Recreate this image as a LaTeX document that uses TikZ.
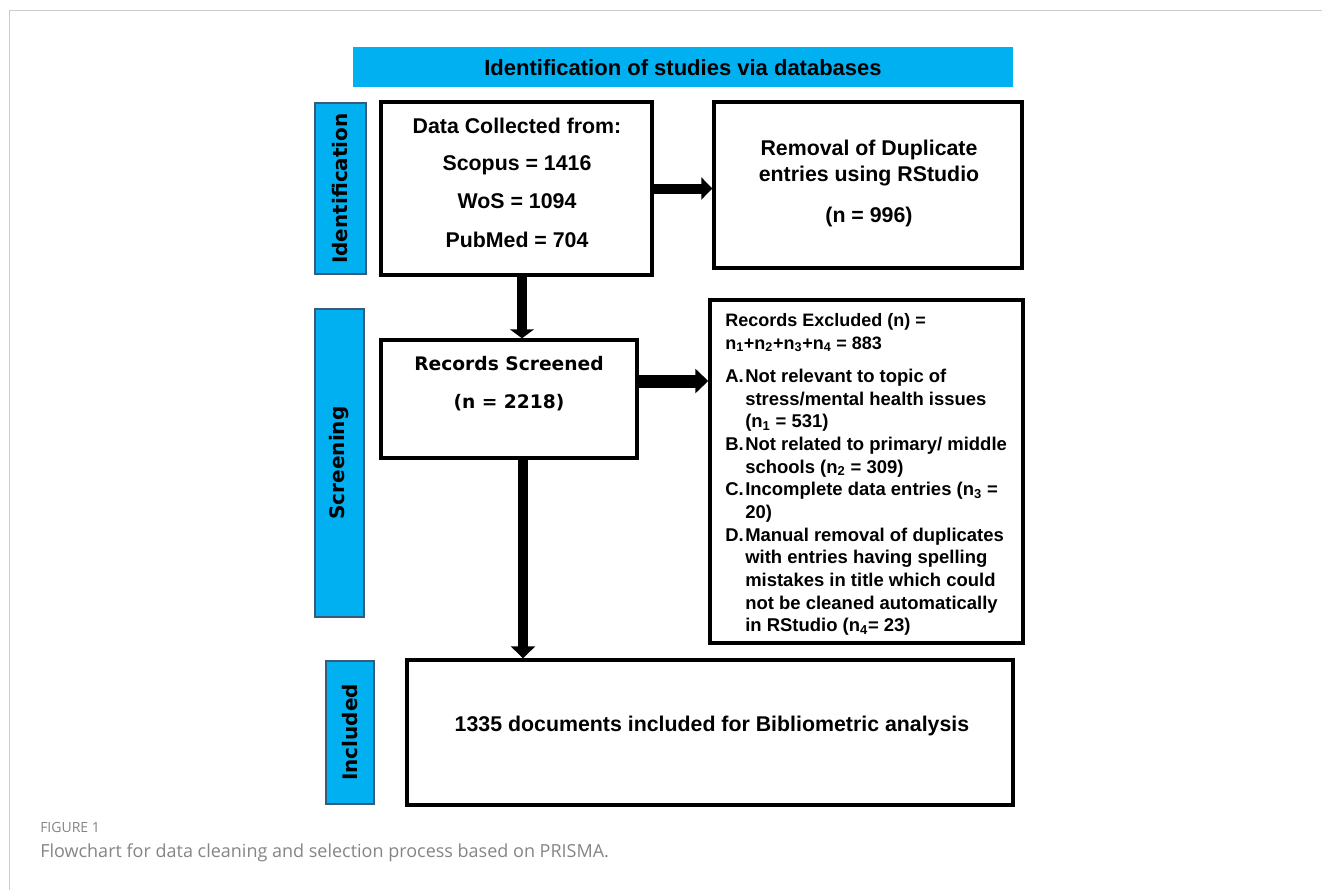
\documentclass[tikz,border=0pt]{standalone}
\usepackage{fontspec}
\setmainfont{Liberation Sans}
\newfontfamily\labfont{DejaVu Sans}
\newfontfamily\capfont{Open Sans}
\usetikzlibrary{arrows.meta}
\definecolor{cyanb}{HTML}{00B0F0}
\definecolor{labborder}{HTML}{3A5A7A}
\definecolor{framegray}{HTML}{CCCCCC}
\definecolor{capgray}{HTML}{858585}
\newcommand\itemfont{\fontsize{13.85pt}{17pt}\selectfont}
\begin{document}
\begin{tikzpicture}[x=0.75pt,y=-0.75pt,
  box/.style={draw=black, line width=2.6pt, fill=white, inner sep=0pt},
  lab/.style={draw=labborder, line width=0.8pt, fill=cyanb, inner sep=0pt, rotate=90,
    font=\labfont\bfseries\fontsize{15pt}{18pt}\selectfont},
  txt/.style={inner sep=0pt, anchor=base, font=\bfseries\fontsize{16pt}{19pt}\selectfont},
  rtxt/.style={inner sep=0pt, anchor=base, font=\labfont\bfseries\fontsize{14pt}{17pt}\selectfont},
  captxt/.style={inner sep=0pt, anchor=base west, text=capgray},
  arr/.style={line width=7.5pt, -{Triangle[width=18pt,length=8pt]}},
]
\useasboundingbox (0,0) rectangle (1322,890);
\fill[white] (0,0) rectangle (1322,890);
\draw[framegray, line width=0.75pt] (1322,10) -- (9,10) -- (9,890);

% banner
\node[fill=cyanb, inner sep=0pt, minimum width=495pt, minimum height=30pt] (banner) at (683,67) {};
\node[txt, font=\bfseries\fontsize{16.5pt}{19pt}\selectfont] (bannert) at (683,75.5) {Identification of studies via databases};

% side labels
\node[lab, minimum width=128.25pt, minimum height=38.25pt] (idlab) at (340.5,188.5) {Identification};
\node[lab, minimum width=231pt, minimum height=36.75pt] (scrlab) at (339.5,463) {Screening};
\node[lab, minimum width=107.25pt, minimum height=36pt] (inclab) at (350,732.5) {Included};

% boxes
\node[box, minimum width=203.25pt, minimum height=129.75pt] (data) at (516.5,188.5) {};
\node[box, minimum width=231pt, minimum height=124.5pt] (removal) at (868,185) {};
\node[box, minimum width=192pt, minimum height=88.5pt] (records) at (509,399) {};
\node[box, minimum width=234.75pt, minimum height=257.25pt] (excl) at (866.5,471.5) {};
\node[box, minimum width=454.5pt, minimum height=108.75pt] (incl) at (710,732.5) {};

% data text
\node[txt] (d1) at (517,133) {Data Collected from:};
\node[txt] (d2) at (517,170.5) {Scopus = 1416};
\node[txt] (d3) at (517,208.2) {WoS = 1094};
\node[txt] (d4) at (517,247) {PubMed = 704};

% removal text
\node[txt] (r1) at (869,155.6) {Removal of Duplicate};
\node[txt] (r2) at (869,181.6) {entries using RStudio};
\node[txt] (r3) at (869,222.6) {(n = 996)};

% records text
\node[rtxt] (s1) at (509,370) {Records Screened};
\node[rtxt] (s2) at (509,408) {(n = 2218)};

% excluded text
\node[inner sep=0pt, anchor=base west, font=\bfseries\fontsize{13.5pt}{17pt}\selectfont] (exclt) at (725,326.4) {%
\begin{tabular}[t]{@{}l@{}}
Records Excluded (n) =\\
n\textsubscript{1}+n\textsubscript{2}+n\textsubscript{3}+n\textsubscript{4} = 883\\[8pt]
\itemfont\makebox[15pt][l]{A.}Not relevant to topic of\\
\itemfont\hspace*{15pt}stress/mental health issues\\
\itemfont\hspace*{15pt}(n\textsubscript{1} = 531)\\
\itemfont\makebox[15pt][l]{B.}Not related to primary/ middle\\
\itemfont\hspace*{15pt}schools (n\textsubscript{2} = 309)\\
\itemfont\makebox[15pt][l]{C.}Incomplete data entries (n\textsubscript{3} =\\
\itemfont\hspace*{15pt}20)\\
\itemfont\makebox[15pt][l]{D.}Manual removal of duplicates\\
\itemfont\hspace*{15pt}with entries having spelling\\
\itemfont\hspace*{15pt}mistakes in title which could\\
\itemfont\hspace*{15pt}not be cleaned automatically\\
\itemfont\hspace*{15pt}in RStudio (n\textsubscript{4}= 23)
\end{tabular}};

% included text
\node[txt] (it) at (712,731.7) {1335 documents included for Bibliometric analysis};

% arrows
\draw[arr, -{Triangle[width=16.5pt,length=8.25pt]}] (data.east) -- (data.east -| removal.west);
\draw[arr, -{Triangle[width=18pt,length=6.75pt]}] ([xshift=4.1pt]data.south) -- ([xshift=4.1pt]data.south |- records.north);
\draw[arr, line width=9.75pt, -{Triangle[width=18pt,length=9.75pt]}] ([yshift=13.5pt]records.east) -- ([yshift=13.5pt]records.east -| excl.west);
\draw[arr, -{Triangle[width=18pt,length=9pt]}] ([xshift=10.5pt]records.south) -- ([xshift=10.5pt]records.south |- incl.north);

% caption
\node[captxt, font=\capfont\fontsize{10.5pt}{12pt}\selectfont] (fig) at (40,832) {FIGURE 1};
\node[captxt, font=\capfont\fontsize{13.5pt}{16pt}\selectfont] (cap) at (40,857) {Flowchart for data cleaning and selection process based on PRISMA.};
\end{tikzpicture}
\end{document}
